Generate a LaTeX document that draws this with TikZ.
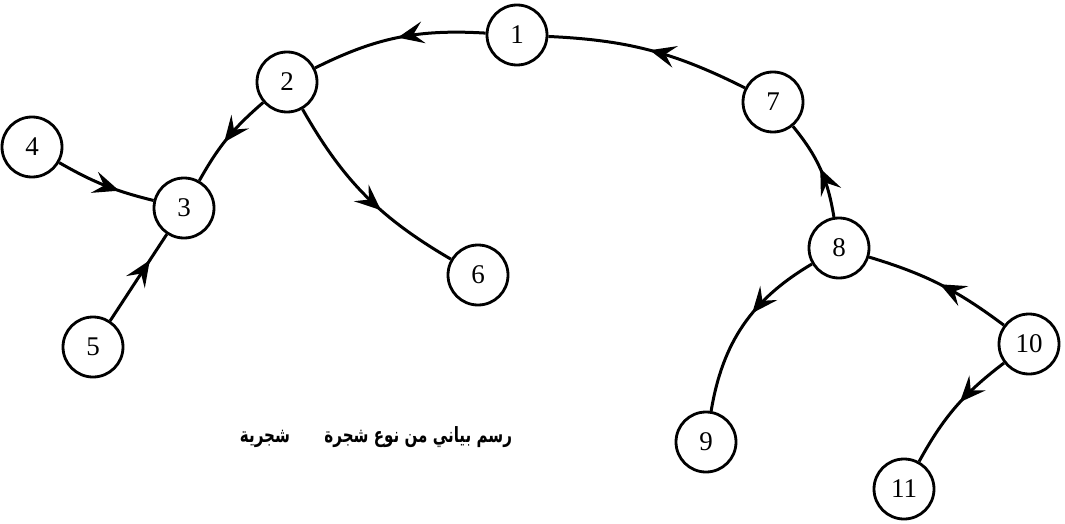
\documentclass[tikz,border=0pt]{standalone}
\usepackage{fontspec}
\setmainfont{Liberation Serif}
\newfontfamily\arabicfont[Script=Arabic]{DejaVu Sans}
\TeXXeTstate=1
\usetikzlibrary{arrows.meta,decorations.markings}

\begin{document}
\begin{tikzpicture}[x=0.5pt,y=-0.5pt,
    vertex/.style={circle,draw=black,line width=1.4pt,inner sep=0pt,minimum size=30pt,font=\fontsize{13.5}{15}\selectfont},
    arc/.style={line width=1.5pt,postaction={decorate},
      decoration={markings,mark=at position #1 with {\arrow{Stealth[length=13pt,width=11pt,inset=5pt]}}}},
    arc/.default=0.5]
    \useasboundingbox (0,0) rectangle (1065,524);

    \node (n1) at (517,35) [vertex] {1};
    \node (n2) at (287,82) [vertex] {2};
    \node (n3) at (184,208) [vertex] {3};
    \node (n4) at (32,147) [vertex] {4};
    \node (n5) at (93,347) [vertex] {5};
    \node (n6) at (478,275) [vertex] {6};
    \node (n7) at (773,102) [vertex] {7};
    \node (n8) at (839,248) [vertex] {8};
    \node (n9) at (706,442) [vertex] {9};
    \node (n10) at (1029,344) [vertex] {10};
    \node (n11) at (904,489) [vertex] {11};

    \node (cap) at (376,437) {\arabicfont\bfseries\fontsize{10.5}{12}\selectfont\scalebox{0.72}[1]{\beginR رسم بياني من نوع شجرة\hspace{24pt}شجرية\endR}};

    \draw[arc] (n1) to[bend right=15] (n2);
    \draw[arc] (n7) to[bend right=12] (n1);
    \draw[arc] (n8) to[bend right=15] (n7);
    \draw[arc] (n10) to[bend right=10] (n8);
    \draw[arc=0.42] (n8) to[bend right=25] (n9);
    \draw[arc=0.45] (n10) to[bend right=12] (n11);
    \draw[arc=0.55] (n2) to[bend right=10] (n3);
    \draw[arc=0.6] (n2) to[bend right=15] (n6);
    \draw[arc=0.65] (n4) to[bend right=8] (n3);
    \draw[arc=0.7] (n5) -- (n3);
\end{tikzpicture}
\end{document}
